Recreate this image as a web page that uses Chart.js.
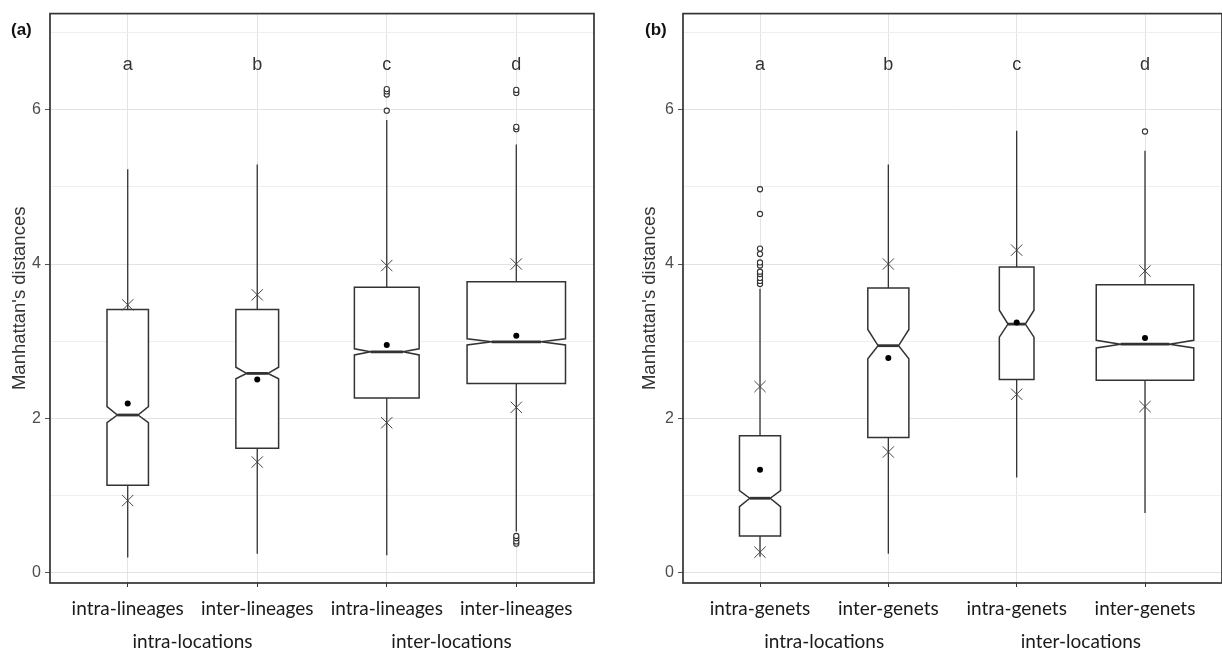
<!DOCTYPE html>
<html>
<head>
<meta charset="utf-8">
<script src="https://cdn.jsdelivr.net/npm/chart.js@4.4.0/dist/chart.umd.min.js"></script>
<style>
  html, body { margin: 0; padding: 0; background: #fff; overflow: hidden; }
  #wrapA { position: absolute; left: 0; top: 0; width: 611px; height: 653px; }
  #wrapB { position: absolute; left: 611px; top: 0; width: 620px; height: 653px; }
</style>
</head>
<body>
<div id="wrapA"><canvas id="chartA"></canvas></div>
<div id="wrapB"><canvas id="chartB"></canvas></div>
<script>
// --- categories / labels ---
const labelsA = ['intra-lineages', 'inter-lineages', 'intra-lineages', 'inter-lineages'];
const labelsB = ['intra-genets', 'inter-genets', 'intra-genets', 'inter-genets'];
const groupLabels = ['intra-locations', 'inter-locations'];
const letters = ['a', 'b', 'c', 'd'];
const yTicks = [0, 1, 2, 3, 4, 5, 6, 7];

// --- panel (a) ---
const lowA     = [0.19, 0.24, 0.22, 0.53];
const q1A      = [1.13, 1.61, 2.26, 2.45];
const medA     = [2.04, 2.58, 2.86, 2.99];
const q3A      = [3.41, 3.41, 3.70, 3.77];
const highA    = [5.23, 5.29, 5.87, 5.55];
const notchLoA = [1.94, 2.51, 2.82, 2.95];
const notchHiA = [2.15, 2.66, 2.90, 3.03];
const meanA    = [2.19, 2.50, 2.95, 3.07];
const sdLoA    = [0.93, 1.43, 1.94, 2.14];
const sdHiA    = [3.47, 3.60, 3.98, 4.00];
const widthA   = [0.32, 0.33, 0.50, 0.76];
const outliersA = [[], [], [5.99, 6.20, 6.24, 6.27], [0.37, 0.40, 0.44, 0.47, 5.75, 5.78, 6.22, 6.26]];

// --- panel (b) ---
const lowB     = [0.20, 0.24, 1.23, 0.77];
const q1B      = [0.47, 1.75, 2.50, 2.49];
const medB     = [0.96, 2.94, 3.22, 2.96];
const q3B      = [1.77, 3.69, 3.96, 3.73];
const highB    = [3.68, 5.29, 5.73, 5.47];
const notchLoB = [0.85, 2.77, 3.05, 2.91];
const notchHiB = [1.06, 3.15, 3.40, 3.01];
const meanB    = [1.33, 2.78, 3.24, 3.04];
const sdLoB    = [0.26, 1.56, 2.31, 2.15];
const sdHiB    = [2.41, 4.00, 4.18, 3.91];
const widthB   = [0.32, 0.32, 0.27, 0.76];
const outliersB = [[3.74, 3.78, 3.82, 3.87, 3.90, 3.98, 4.02, 4.13, 4.20, 4.65, 4.97], [], [], [5.72]];

const INK = '#333333';
const LABEL_FONT = 'Lato, "Open Sans", sans-serif';

// boxes, whiskers, notches: drawn through the chart's scales
const boxPlugin = {
  id: 'boxes',
  beforeDatasetsDraw(chart) {
    const p = chart.options.plugins.boxes;
    const xs = chart.scales.x, ys = chart.scales.y;
    const ctx = chart.ctx;
    ctx.save();
    for (let i = 0; i < p.q1.length; i++) {
      const cx = xs.getPixelForValue(i + 1);
      const half = xs.getPixelForValue(1 + p.width[i] / 2) - xs.getPixelForValue(1);
      const ind = half / 2;
      const yLow = ys.getPixelForValue(p.low[i]);
      const yQ1 = ys.getPixelForValue(p.q1[i]);
      const yMed = ys.getPixelForValue(p.med[i]);
      const yQ3 = ys.getPixelForValue(p.q3[i]);
      const yHigh = ys.getPixelForValue(p.high[i]);
      const yNl = ys.getPixelForValue(p.notchLo[i]);
      const yNh = ys.getPixelForValue(p.notchHi[i]);

      // whiskers
      ctx.strokeStyle = INK;
      ctx.lineWidth = 1.3;
      ctx.beginPath();
      ctx.moveTo(cx, yQ3); ctx.lineTo(cx, yHigh);
      ctx.moveTo(cx, yQ1); ctx.lineTo(cx, yLow);
      ctx.stroke();

      // notched box
      const l = cx - half, r = cx + half;
      ctx.beginPath();
      ctx.moveTo(l, yQ3);
      ctx.lineTo(l, yNh);
      ctx.lineTo(l + ind, yMed);
      ctx.lineTo(l, yNl);
      ctx.lineTo(l, yQ1);
      ctx.lineTo(r, yQ1);
      ctx.lineTo(r, yNl);
      ctx.lineTo(r - ind, yMed);
      ctx.lineTo(r, yNh);
      ctx.lineTo(r, yQ3);
      ctx.closePath();
      ctx.fillStyle = '#ffffff';
      ctx.fill();
      ctx.lineWidth = 1.5;
      ctx.stroke();

      // median
      ctx.lineWidth = 2.8;
      ctx.beginPath();
      ctx.moveTo(l + ind, yMed);
      ctx.lineTo(r - ind, yMed);
      ctx.stroke();
    }
    ctx.restore();
  },
  afterDraw(chart) {
    const p = chart.options.plugins.boxes;
    const xs = chart.scales.x, ys = chart.scales.y;
    const ctx = chart.ctx;
    const a = chart.chartArea;
    ctx.save();
    // panel border
    ctx.strokeStyle = INK;
    ctx.lineWidth = 1.7;
    ctx.strokeRect(a.left, a.top, a.right - a.left, a.bottom - a.top);

    // significance letters
    ctx.fillStyle = INK;
    ctx.font = '18px "Liberation Sans", Arial, sans-serif';
    ctx.textAlign = 'center';
    ctx.textBaseline = 'middle';
    letters.forEach((t, i) => {
      ctx.fillText(t, xs.getPixelForValue(i + 1), ys.getPixelForValue(6.58));
    });

    // second level of x labels
    ctx.fillStyle = '#1a1a1a';
    ctx.font = '19px ' + LABEL_FONT;
    groupLabels.forEach((t, g) => {
      const x = (xs.getPixelForValue(2 * g + 1) + xs.getPixelForValue(2 * g + 2)) / 2;
      ctx.fillText(t, x, 642);
    });

    // panel tag
    ctx.fillStyle = '#111111';
    ctx.font = 'bold 17px "Liberation Sans", Arial, sans-serif';
    ctx.textAlign = 'left';
    ctx.fillText(p.tag, p.tagX, 30);
    ctx.restore();
  }
};

function makeChart(id, cfg) {
  const pts = (vals) => vals.map((v, i) => ({ x: i + 1, y: v }));
  const outlierPts = [];
  cfg.outliers.forEach((arr, i) => arr.forEach(v => outlierPts.push({ x: i + 1, y: v })));

  return new Chart(document.getElementById(id), {
    type: 'scatter',
    data: {
      datasets: [
        {
          label: 'outliers',
          data: outlierPts,
          pointStyle: 'circle',
          pointRadius: 2.6,
          backgroundColor: '#ffffff',
          borderColor: INK,
          borderWidth: 1.1
        },
        {
          label: 'sd',
          data: pts(cfg.sdLo).concat(pts(cfg.sdHi)),
          pointStyle: 'crossRot',
          pointRadius: 8,
          borderColor: '#444444',
          borderWidth: 1
        },
        {
          label: 'mean',
          data: pts(cfg.mean),
          pointStyle: 'circle',
          pointRadius: 3,
          backgroundColor: '#000000',
          borderColor: '#000000',
          borderWidth: 0
        }
      ]
    },
    options: {
      responsive: true,
      maintainAspectRatio: false,
      animation: false,
      events: [],
      layout: { padding: { top: 10, right: cfg.padRight, left: 0, bottom: 0 } },
      plugins: {
        legend: { display: false },
        tooltip: { enabled: false },
        boxes: cfg
      },
      scales: {
        x: {
          type: 'linear',
          min: 0.4,
          max: 4.6,
          afterBuildTicks: s => { s.ticks = [1, 2, 3, 4].map(v => ({ value: v })); },
          afterFit: s => { s.height = 70; },
          border: { display: false },
          grid: { color: '#e4e4e4', lineWidth: 1, tickColor: INK, tickLength: 4 },
          ticks: {
            autoSkip: false,
            maxRotation: 0,
            padding: 10,
            color: '#1a1a1a',
            font: { family: LABEL_FONT, size: 19 },
            callback: v => cfg.labels[v - 1]
          }
        },
        y: {
          min: -0.14,
          max: 7.25,
          afterBuildTicks: s => { s.ticks = yTicks.map(v => ({ value: v })); },
          afterFit: s => { s.width = cfg.yWidth; },
          border: { display: false },
          grid: {
            color: c => (c.tick && c.tick.value % 2 === 0) ? '#e2e2e2' : '#efefef',
            tickColor: c => (c.tick && c.tick.value % 2 === 0) ? '#555555' : 'rgba(0,0,0,0)',
            tickLength: 5
          },
          ticks: {
            autoSkip: false,
            padding: 4,
            color: '#4d4d4d',
            font: { family: '"Liberation Sans", Arial, sans-serif', size: 16 },
            callback: v => (v % 2 === 0 ? String(v) : '')
          },
          title: {
            display: true,
            text: "Manhattan's distances",
            color: INK,
            font: { family: '"Liberation Sans", Arial, sans-serif', size: 18.5 },
            padding: { top: cfg.titlePad, bottom: 0 }
          }
        }
      }
    },
    plugins: [boxPlugin]
  });
}

makeChart('chartA', {
  labels: labelsA, tag: '(a)', tagX: 11, padRight: 17, yWidth: 50, titlePad: 9,
  low: lowA, q1: q1A, med: medA, q3: q3A, high: highA,
  notchLo: notchLoA, notchHi: notchHiA, mean: meanA,
  sdLo: sdLoA, sdHi: sdHiA, width: widthA, outliers: outliersA
});

makeChart('chartB', {
  labels: labelsB, tag: '(b)', tagX: 34, padRight: 4, yWidth: 72, titlePad: 28,
  low: lowB, q1: q1B, med: medB, q3: q3B, high: highB,
  notchLo: notchLoB, notchHi: notchHiB, mean: meanB,
  sdLo: sdLoB, sdHi: sdHiB, width: widthB, outliers: outliersB
});
</script>
</body>
</html>
